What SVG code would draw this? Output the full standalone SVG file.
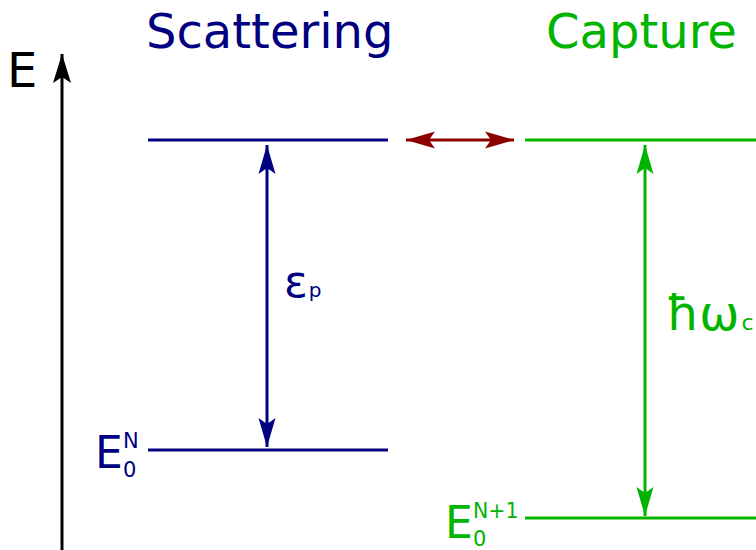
<svg xmlns="http://www.w3.org/2000/svg" width="756" height="550" viewBox="0 0 756 550">
<style>
text{font-family:"DejaVu Sans","Liberation Sans",sans-serif}
.navy{fill:#000080}
.green{fill:#00b400}
.lvlN{stroke:#000080;stroke-width:3;fill:none}
.lvlG{stroke:#00b400;stroke-width:3;fill:none}
</style>
<defs>
<marker id="ahK" markerUnits="userSpaceOnUse" markerWidth="40" markerHeight="30" refX="0" refY="0" viewBox="-30 -15 32 30" orient="auto-start-reverse"><path d="M0,0 L-29,-9 L-23,0 L-29,9 Z" fill="#000"/></marker>
<marker id="ahN" markerUnits="userSpaceOnUse" markerWidth="40" markerHeight="30" refX="0" refY="0" viewBox="-30 -15 32 30" orient="auto-start-reverse"><path d="M0,0 L-29,-8.5 L-23,0 L-29,8.5 Z" fill="#000080"/></marker>
<marker id="ahG" markerUnits="userSpaceOnUse" markerWidth="40" markerHeight="30" refX="0" refY="0" viewBox="-30 -15 32 30" orient="auto-start-reverse"><path d="M0,0 L-29,-8.5 L-23,0 L-29,8.5 Z" fill="#00b400"/></marker>
<marker id="ahR" markerUnits="userSpaceOnUse" markerWidth="40" markerHeight="30" refX="0" refY="0" viewBox="-30 -15 32 30" orient="auto-start-reverse"><path d="M0,0 L-29,-8.5 L-23,0 L-29,8.5 Z" fill="#8c0000"/></marker>
</defs>
<g id="axis">
<line x1="62" y1="550" x2="62" y2="54" stroke="#000" stroke-width="3" marker-end="url(#ahK)"/>
<text x="7" y="87" font-size="48" fill="#000">E</text>
</g>
<g id="scattering">
<text class="navy" x="146" y="48" font-size="48">Scattering</text>
<line class="lvlN" x1="148" y1="140" x2="388" y2="140"/>
<line class="lvlN" x1="148" y1="450" x2="388" y2="450"/>
<text class="navy" x="95" y="468" font-size="44">E<tspan x="123" y="448" font-size="21">N</tspan><tspan x="123" y="477" font-size="21">0</tspan></text>
</g>
<g id="capture">
<text class="green" x="546" y="48" font-size="48">Capture</text>
<line class="lvlG" x1="525" y1="140" x2="756" y2="140"/>
<line class="lvlG" x1="525" y1="518" x2="756" y2="518"/>
<text class="green" x="445" y="538" font-size="44">E<tspan x="473" y="518" font-size="20.5">N+1</tspan><tspan x="473" y="546" font-size="21">0</tspan></text>
</g>
<g id="connectors">
<line x1="267" y1="145" x2="267" y2="447" stroke="#000080" stroke-width="3" marker-start="url(#ahN)" marker-end="url(#ahN)"/>
<line x1="645" y1="145" x2="645" y2="516" stroke="#00b400" stroke-width="3" marker-start="url(#ahG)" marker-end="url(#ahG)"/>
<line x1="406" y1="140" x2="514" y2="140" stroke="#8c0000" stroke-width="3" marker-start="url(#ahR)" marker-end="url(#ahR)"/>
</g>
<g id="labels">
<text class="navy" x="284" y="297" font-size="44">ε<tspan font-size="20" dx="1">p</tspan></text>
<text class="green" x="666" y="330" font-size="48">ħω<tspan font-size="22" dx="2">c</tspan></text>
</g>
</svg>
